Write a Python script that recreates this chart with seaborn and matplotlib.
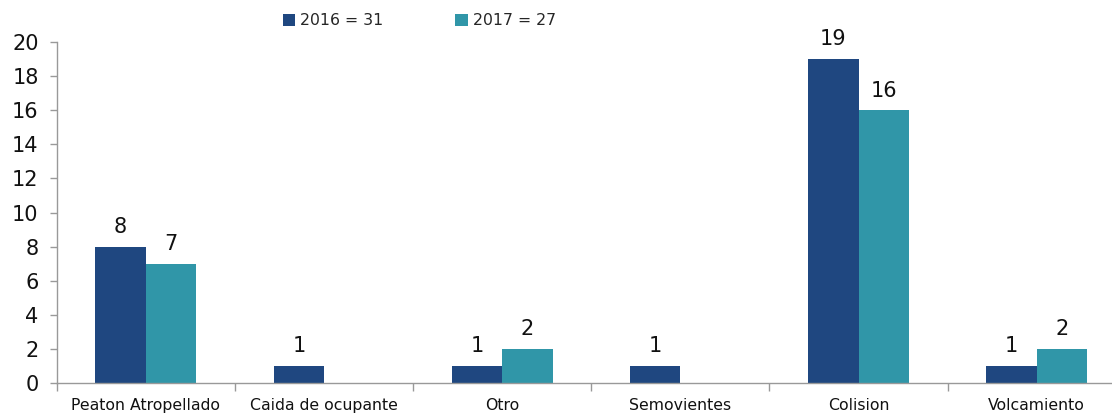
import pandas as pd
import matplotlib.pyplot as plt
import seaborn as sns
from matplotlib.ticker import FixedLocator

sns.set_theme(style="white")
plt.rcParams['font.family'] = ['DejaVu Sans']

categorias = ['Peaton Atropellado', 'Caida de ocupante', 'Otro',
              'Semovientes', 'Colision', 'Volcamiento']
valores_2016 = [8, 1, 1, 1, 19, 1]
valores_2017 = [7, 0, 2, 0, 16, 2]
etiquetas_serie = ['2016 = 31', '2017 = 27']

df = pd.DataFrame({
    'categoria': categorias * 2,
    'valor': valores_2016 + valores_2017,
    'serie': [etiquetas_serie[0]] * len(categorias) + [etiquetas_serie[1]] * len(categorias),
})

colores = {etiquetas_serie[0]: '#1F4780', etiquetas_serie[1]: '#3096A8'}

fig = plt.figure(figsize=(11.12, 4.16), dpi=100)
ax = fig.add_axes([0.051, 0.079, 0.955, 0.82])

sns.barplot(data=df, x='categoria', y='valor', hue='serie', palette=colores,
            width=0.565, saturation=1, linewidth=0, ax=ax, order=categorias)

for cont in ax.containers:
    etiquetas = [f'{int(b.get_height())}' if b.get_height() > 0 else '' for b in cont]
    ax.bar_label(cont, labels=etiquetas, padding=7, fontsize=15, color='#111111')

ax.set_ylim(0, 20)
ax.set_yticks(range(0, 21, 2))
ax.set_xlim(-0.5, 5.46)
ax.xaxis.set_minor_locator(FixedLocator([i - 0.5 for i in range(7)]))
ax.tick_params(axis='x', which='major', length=0, pad=11, labelsize=11.3, colors='#111111')
ax.tick_params(axis='x', which='minor', bottom=True, length=6, width=1, color='#999999')
ax.tick_params(axis='y', left=True, length=5, width=1, pad=8, color='#999999',
               labelsize=15, labelcolor='#111111')
ax.set_xlabel('')
ax.set_ylabel('')

for lado in ['top', 'right']:
    ax.spines[lado].set_visible(False)
for lado in ['left', 'bottom']:
    ax.spines[lado].set_color('#999999')
    ax.spines[lado].set_linewidth(1)

ax.legend(title=None, ncol=2, frameon=False, loc='center',
          fontsize=11.3, handlelength=0.8, handleheight=0.8, handletextpad=0.3,
          columnspacing=4.6)
leg = ax.get_legend()
leg.set_bbox_to_anchor((0.377, 0.95), transform=fig.transFigure)

fig.savefig('out.png', dpi=100)
plt.close()
